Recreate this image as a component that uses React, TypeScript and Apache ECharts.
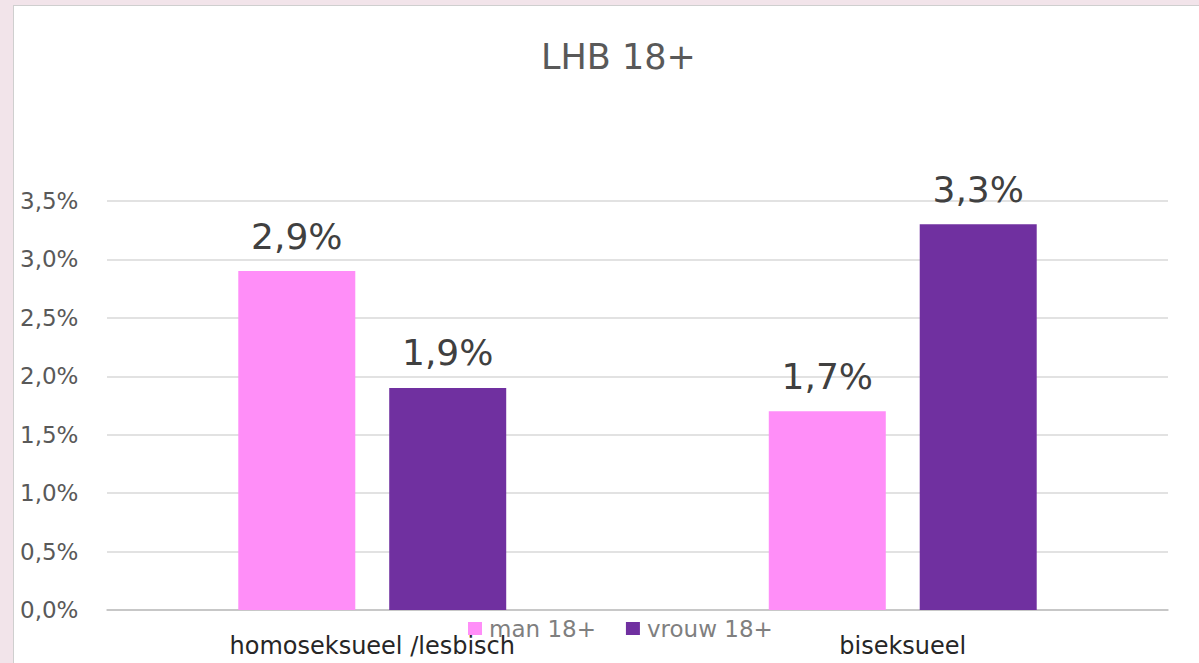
import React, { useEffect, useRef } from "react";
import * as echarts from "echarts";

const categories = ["homoseksueel /lesbisch", "biseksueel"];
const seriesNames = ["man 18+", "vrouw 18+"];
const manValues = [2.9, 1.7];
const vrouwValues = [1.9, 3.3];
const yTicks = [0, 0.5, 1, 1.5, 2, 2.5, 3, 3.5];
const titleText = "LHB 18+";

const FONT = "DejaVu Sans";
const fmt = (v: number) => v.toFixed(1).replace(".", ",") + "%";

export default function App() {
  const ref = useRef<HTMLDivElement>(null);
  useEffect(() => {
    if (!ref.current) return;
    const chart = echarts.init(ref.current, null, { renderer: "svg" });
    const labelCfg = {
      show: true,
      position: "top",
      distance: 17,
      fontFamily: FONT,
      fontSize: 36,
      color: "#404040",
      formatter: (p: any) => fmt(p.value),
    };
    chart.setOption({
      animation: false,
      backgroundColor: "#ffffff",
      textStyle: { fontFamily: FONT },
      title: {
        text: titleText,
        left: 527,
        top: 33,
        padding: 0,
        textStyle: { fontFamily: FONT, fontSize: 35, fontWeight: "normal", color: "#595959" },
      },
      legend: {
        data: seriesNames,
        left: 449,
        top: 606,
        itemWidth: 14,
        itemHeight: 13,
        itemGap: 30,
        icon: "rect",
        textStyle: { fontFamily: FONT, fontSize: 23, color: "#7f7f7f", padding: [0, 0, 0, 2] },
      },
      grid: { left: 93, right: 31, top: 195, bottom: 53 },
      xAxis: {
        type: "category",
        data: categories,
        axisLine: { lineStyle: { color: "#bfbfbf", width: 1.5 } },
        axisTick: { show: false },
        axisLabel: { fontFamily: FONT, fontSize: 24, color: "#262626", margin: 24 },
      },
      yAxis: {
        type: "value",
        min: yTicks[0],
        max: yTicks[yTicks.length - 1],
        interval: 0.5,
        axisLine: { show: false },
        axisTick: { show: false },
        splitLine: { lineStyle: { color: "#d9d9d9", width: 1.5 } },
        axisLabel: {
          fontFamily: FONT,
          fontSize: 23,
          color: "#595959",
          align: "left",
          margin: 87,
          formatter: (v: number) => fmt(v),
        },
      },
      series: [
        {
          name: seriesNames[0],
          type: "bar",
          data: manValues,
          barWidth: 117,
          barGap: "29%",
          itemStyle: { color: "#ff8ef8" },
          label: labelCfg,
        },
        {
          name: seriesNames[1],
          type: "bar",
          data: vrouwValues,
          barWidth: 117,
          barGap: "29%",
          itemStyle: { color: "#7030a0" },
          label: labelCfg,
        },
      ],
    });
    return () => chart.dispose();
  }, []);

  return (
    <div
      style={{
        position: "fixed",
        left: 0,
        top: 0,
        width: 1199,
        height: 663,
        background: "#f2e4ea",
        overflow: "hidden",
      }}
    >
      <div
        style={{
          position: "absolute",
          left: 13,
          top: 5,
          width: 1186,
          height: 658,
          background: "#ffffff",
          borderLeft: "1px solid #cfcfcf",
          borderTop: "1px solid #cfcfcf",
          boxShadow: "1px 1px 3px rgba(0,0,0,0.15) inset",
          boxSizing: "border-box",
        }}
      >
        <div ref={ref} style={{ width: "100%", height: "100%" }} />
      </div>
    </div>
  );
}
